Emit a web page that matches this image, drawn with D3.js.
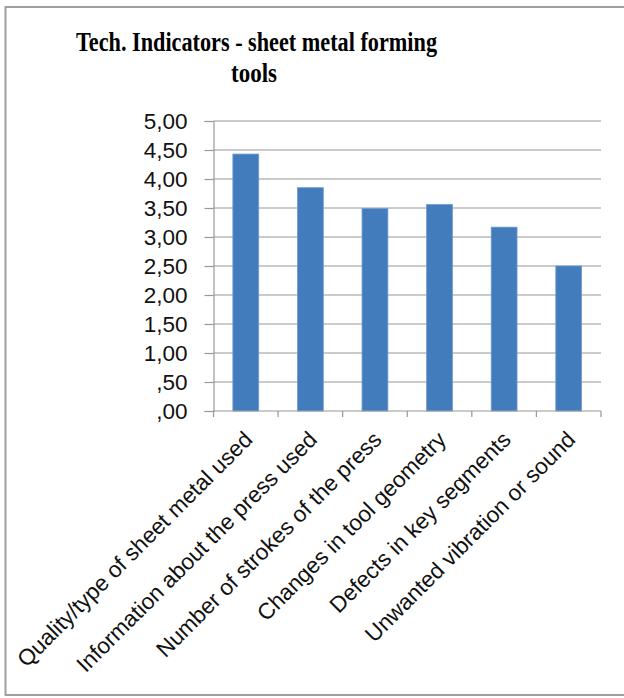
<!DOCTYPE html>
<html><head><meta charset="utf-8">
<script src="https://cdn.jsdelivr.net/npm/d3@7"></script>
<style>html,body{margin:0;padding:0;background:#fff;}svg{display:block;}</style>
</head><body>
<script>
const categories = ["Quality/type of sheet metal used","Information about the press used","Number of strokes of the press","Changes in tool geometry","Defects in key segments","Unwanted vibration or sound"];
const values = [4.43, 3.85, 3.49, 3.56, 3.17, 2.50];
const yTicks = [0,0.5,1,1.5,2,2.5,3,3.5,4,4.5,5];
const titleLines = ["Tech. Indicators - sheet metal forming","tools"];

const W=624,H=698;
const svg=d3.select("body").append("svg").attr("width",W).attr("height",H);
svg.append("rect").attr("width",W).attr("height",H).attr("fill","#fff");
// frame
svg.append("path").attr("d",`M${W+5},7 H5.5 V695 H${W+5}`).attr("fill","none").attr("stroke","#a0a0a0").attr("stroke-width",2);

const m={left:213.5,right:601,top:121,bottom:411};
const x=d3.scaleBand().domain(categories).range([m.left,m.right]).paddingInner(0.6).paddingOuter(0.3);
const y=d3.scaleLinear().domain([0,5]).range([m.bottom,m.top]);

// grid
svg.append("g").selectAll("line").data(yTicks.filter(d=>d>0)).join("line")
 .attr("x1",m.left).attr("x2",m.right).attr("y1",d=>y(d)).attr("y2",d=>y(d))
 .attr("stroke","#989898").attr("stroke-width",1.2);

// y axis
const fmt=d=>{const s=d3.format(".2f")(d).replace(".",",");return s.startsWith("0")?s.slice(1):s;};
const yAxis=svg.append("g").attr("transform",`translate(${m.left},0)`)
 .call(d3.axisLeft(y).tickValues(yTicks).tickFormat(fmt).tickSize(9).tickPadding(17));
yAxis.select(".domain").attr("stroke","#989898").attr("stroke-width",1.2);
yAxis.selectAll(".tick line").attr("stroke","#989898").attr("stroke-width",1.2);
yAxis.selectAll("text").attr("font-family","'Liberation Sans',Arial,sans-serif").attr("font-size",22.5).attr("fill","#111");

// bars
svg.append("g").selectAll("rect").data(values).join("rect")
 .attr("x",(d,i)=>x(categories[i])).attr("width",x.bandwidth())
 .attr("y",d=>y(d)).attr("height",d=>y(0)-y(d))
 .attr("fill","#427cbc").attr("stroke","#6f9bd0").attr("stroke-width",0.8);

// x axis
const step=(m.right-m.left)/categories.length;
const xb=svg.append("g");
xb.append("line").attr("x1",m.left).attr("x2",m.right).attr("y1",m.bottom).attr("y2",m.bottom).attr("stroke","#989898").attr("stroke-width",1.2);
xb.selectAll("line.t").data(d3.range(categories.length+1)).join("line").attr("class","t")
 .attr("x1",i=>m.left+i*step).attr("x2",i=>m.left+i*step).attr("y1",m.bottom).attr("y2",m.bottom+6)
 .attr("stroke","#989898").attr("stroke-width",1.2);
xb.selectAll("text").data(categories).join("text")
 .attr("transform",d=>`translate(${x(d)+x.bandwidth()/2+8},${m.bottom+30}) rotate(-45)`)
 .attr("text-anchor","end").attr("font-family","'Liberation Sans',Arial,sans-serif").attr("font-size",22.5).attr("fill","#111")
 .text(d=>d);

// title
svg.append("text").attr("x",256.5).attr("y",51).attr("text-anchor","middle")
 .attr("font-family","'Liberation Serif','Times New Roman',serif").attr("font-weight","bold").attr("font-size",27)
 .attr("textLength",361).attr("lengthAdjust","spacingAndGlyphs").text(titleLines[0]);
svg.append("text").attr("x",254).attr("y",82).attr("text-anchor","middle")
 .attr("font-family","'Liberation Serif','Times New Roman',serif").attr("font-weight","bold").attr("font-size",27)
 .attr("textLength",46).attr("lengthAdjust","spacingAndGlyphs").text(titleLines[1]);
</script>
</body></html>
